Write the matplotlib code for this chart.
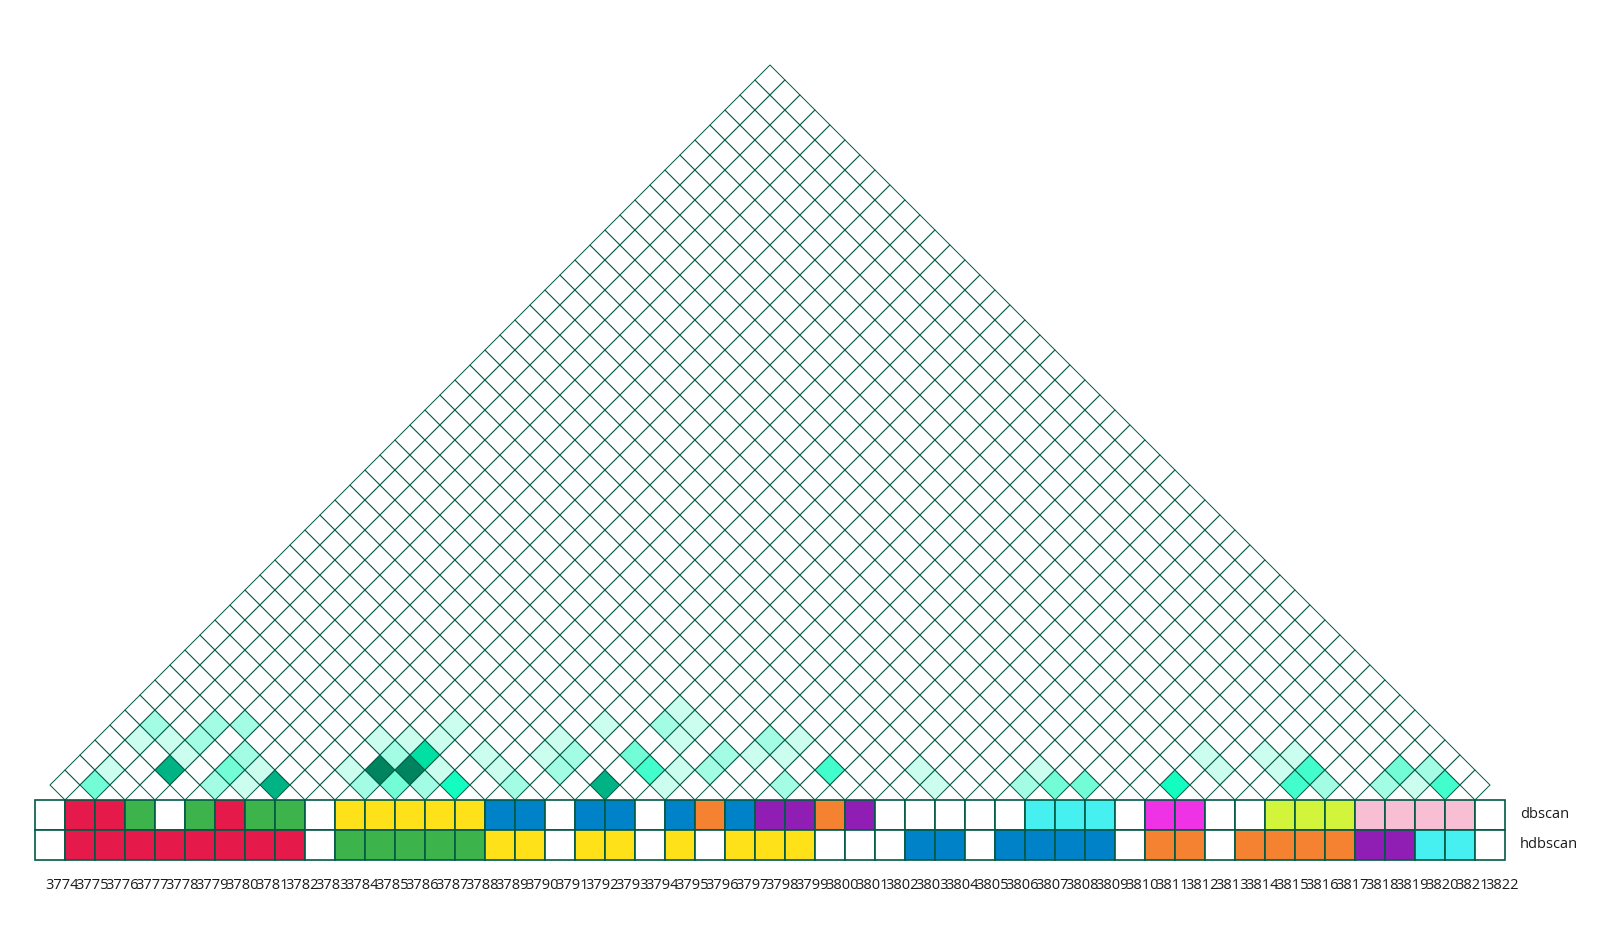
#!/usr/bin/env python3
"""
Pairwise co-occurrence triangle with dbscan / hdbscan cluster tracks
"""

import matplotlib
matplotlib.use("Agg")
import matplotlib.pyplot as plt
from matplotlib.collections import PolyCollection
from matplotlib.colors import ListedColormap, BoundaryNorm
from matplotlib.patches import Rectangle

# ----------------------
# Data
# ----------------------
POSITIONS = list(range(3774, 3823))

# cluster ids per position (-1 = noise / unassigned)
DBSCAN = [-1, 0, 0, 1, -1, 1, 0, 1, 1, -1,
          2, 2, 2, 2, 2, 3, 3, -1, 3, 3,
          -1, 3, 4, 3, 5, 5, 4, 5, -1, -1,
          -1, -1, -1, 6, 6, 6, -1, 7, 7, -1,
          -1, 8, 8, 8, 9, 9, 9, 9, -1]
HDBSCAN = [-1, 0, 0, 0, 0, 0, 0, 0, 0, -1,
           1, 1, 1, 1, 1, 2, 2, -1, 2, 2,
           -1, 2, -1, 2, 2, 2, -1, -1, -1, 3,
           3, -1, 3, 3, 3, 3, -1, 4, 4, -1,
           4, 4, 4, 4, 5, 5, 6, 6, -1]

DBSCAN_COLORS = ["#e6194b", "#3cb44b", "#ffe119", "#0082c8", "#f58231",
                 "#911eb4", "#46f0f0", "#f032e6", "#d2f53c", "#f8bed4"]
HDBSCAN_COLORS = ["#e6194b", "#3cb44b", "#ffe119", "#0082c8", "#f58231",
                  "#911eb4", "#46f0f0"]

# pairwise strength (index i, index j, level 1..8), all other pairs are 0
PAIR_I = [1, 1, 1, 1, 2, 3, 3, 3, 3, 4, 5, 5, 5, 6, 6, 7,
          9, 10, 10, 11, 11, 12, 11, 13, 10, 9, 10, 11, 12, 11, 13, 14,
          15, 15, 15, 16, 16, 16, 18, 18, 19, 18, 18, 19, 19, 20, 20, 21,
          21, 22, 22, 23, 23, 24, 25, 28, 29,
          32, 32, 33, 34, 37, 37, 38, 39, 40, 40, 41, 41, 42, 44, 44, 45,
          45, 46]
PAIR_J = [2, 3, 5, 6, 6, 5, 6, 7, 8, 9, 6, 7, 8, 7, 8, 8,
          11, 11, 12, 12, 13, 13, 14, 14, 13, 13, 14, 15, 14, 16, 16, 16,
          16, 18, 19, 18, 19, 21, 19, 21, 21, 23, 24, 23, 24, 21, 22, 23,
          24, 25, 26, 26, 27, 25, 27, 30, 30,
          33, 34, 34, 35, 38, 40, 40, 42, 42, 43, 42, 43, 43, 45, 46, 46,
          47, 47]
PAIR_LEVEL = [3, 1, 1, 2, 1, 7, 1, 2, 2, 2, 2, 3, 2, 1, 1, 7,
              1, 2, 8, 3, 8, 2, 6, 5, 2, 1, 1, 1, 1, 1, 1, 1,
              2, 1, 1, 2, 2, 1, 7, 3, 4, 2, 1, 1, 1, 1, 1, 2,
              2, 1, 2, 1, 1, 2, 4, 1, 1,
              2, 1, 3, 3, 5, 1, 1, 1, 1, 1, 4, 4, 2, 2, 3, 1,
              2, 4]

LEVEL_COLORS = ["#ffffff", "#ccfef0", "#a2fde4", "#72fdd7", "#42fdcc",
                "#14fdc1", "#00e0a2", "#00b384", "#00835f"]

EDGE = "#005a46"


def diamond(i, j):
    """Rotated square for pair (i, j), sitting above the cell track."""
    cx = (i + j + 1) / 2
    cy = (j - i) / 2
    return [(cx, cy - 0.5), (cx + 0.5, cy), (cx, cy + 0.5), (cx - 0.5, cy)]


def main():
    n = len(POSITIONS)
    levels = {(i, j): lv for i, j, lv in zip(PAIR_I, PAIR_J, PAIR_LEVEL)}

    verts, vals = [], []
    for i in range(n):
        for j in range(i + 1, n):
            verts.append(diamond(i, j))
            vals.append(levels.get((i, j), 0))

    fig = plt.figure(figsize=(16.2, 9.25), dpi=100)
    ax = fig.add_axes([0, 0, 1, 1])

    cmap = ListedColormap(LEVEL_COLORS)
    norm = BoundaryNorm([x - 0.5 for x in range(len(LEVEL_COLORS) + 1)], cmap.N)
    pc = PolyCollection(verts, array=vals, cmap=cmap, norm=norm,
                        edgecolors=EDGE, linewidths=0.7)
    ax.add_collection(pc)

    # cluster tracks
    tracks = [(DBSCAN, DBSCAN_COLORS, "dbscan"), (HDBSCAN, HDBSCAN_COLORS, "hdbscan")]
    for row, (labels, colors, name) in enumerate(tracks):
        y0 = -1 - row
        for k, lab in enumerate(labels):
            fc = "white" if lab < 0 else colors[lab]
            ax.add_patch(Rectangle((k, y0), 1, 1, facecolor=fc,
                                   edgecolor=EDGE, linewidth=1.2))
        ax.text(n + 0.5, y0 + 0.5, name, ha="left", va="center",
                fontsize=10.5, family="Open Sans", color="#1a1a1a")

    for k, pos in enumerate(POSITIONS):
        ax.text(k + 0.36, -2.97, str(pos), ha="left", va="baseline",
                fontsize=10.5, family="Open Sans", color="#1a1a1a")

    ax.set_xlim(-35 / 30, 1585 / 30)
    ax.set_ylim(-125 / 30, 800 / 30)
    ax.axis("off")

    fig.savefig("out.png", dpi=100, facecolor="white")


if __name__ == "__main__":
    main()
